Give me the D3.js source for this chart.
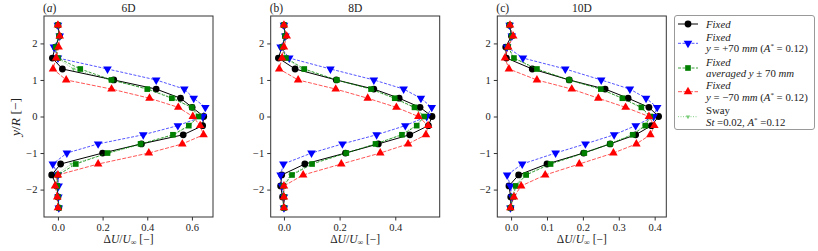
<!DOCTYPE html>
<html>
<head>
<meta charset="utf-8">
<script src="https://cdn.jsdelivr.net/npm/d3@7"></script>
<style>
body { margin: 0; background: #fff; }
text { font-family: "Liberation Serif", "DejaVu Serif", serif; fill: #222; }
</style>
</head>
<body>
<svg width="818" height="251"></svg>
<script>
// radial positions of the measurement points
var yPos = [2.5, 2.2, 1.9, 1.6, 1.3, 1.0, 0.75, 0.5, 0.25, 0, -0.25, -0.5, -0.75, -1.0, -1.3, -1.6, -1.9, -2.2, -2.5];
var titles = ["6D", "8D", "10D"];
var tags = ["(a)", "(b)", "(c)"];
var xTicks = [[0, 0.2, 0.4, 0.6], [0, 0.2, 0.4], [0, 0.1, 0.2, 0.3, 0.4]];
var yTicks = [-2, -1, 0, 1, 2];

// 6D
var fixed6 = [0.0, 0.007, -0.012, -0.025, 0.02, 0.25, 0.44, 0.549, 0.601, 0.653, 0.648, 0.561, 0.374, 0.2, 0.012, -0.028, -0.005, 0.0, 0.004];
var plus6  = [0.0, 0.008, -0.018, 0.0, 0.222, 0.44, 0.566, 0.608, 0.66, 0.648, 0.537, 0.382, 0.18, 0.04, -0.023, 0.0, 0.003, 0.002, 0.004];
var avg6   = [0.0, 0.005, -0.01, 0.0, 0.1, 0.24, 0.40, 0.51, 0.6, 0.63, 0.586, 0.515, 0.37, 0.222, 0.08, 0.0, -0.003, 0.0, 0.004];
var minus6 = [0.0, 0.008, 0.003, -0.008, -0.022, 0.037, 0.24, 0.41, 0.539, 0.604, 0.637, 0.652, 0.557, 0.407, 0.18, 0.0, -0.013, -0.003, 0.0];
var sway6  = [0.0, 0.005, -0.008, -0.004, 0.07, 0.23, 0.41, 0.52, 0.595, 0.625, 0.59, 0.52, 0.38, 0.23, 0.06, -0.01, -0.003, 0.0, 0.003];

// 8D
var fixed8 = [0.0, 0.005, -0.007, -0.02, 0.04, 0.188, 0.323, 0.414, 0.489, 0.532, 0.519, 0.452, 0.339, 0.221, 0.075, -0.008, -0.012, -0.005, 0.0];
var plus8  = [0.0, 0.005, -0.012, 0.019, 0.167, 0.323, 0.43, 0.492, 0.531, 0.513, 0.436, 0.333, 0.21, 0.099, -0.002, -0.012, -0.007, 0.0, 0.0];
var avg8   = [0.0, 0.004, -0.005, 0.007, 0.073, 0.19, 0.313, 0.398, 0.469, 0.504, 0.477, 0.424, 0.329, 0.224, 0.101, 0.029, -0.002, 0.0, 0.0];
var minus8 = [0.0, 0.01, 0.0, -0.007, -0.017, 0.051, 0.186, 0.301, 0.404, 0.483, 0.518, 0.51, 0.446, 0.346, 0.206, 0.069, 0.0, 0.0, 0.0];
var sway8  = [0.0, 0.004, -0.004, 0.004, 0.065, 0.185, 0.31, 0.395, 0.465, 0.5, 0.475, 0.42, 0.33, 0.225, 0.095, 0.022, -0.002, 0.0, 0.0];

// 10D
var fixed10 = [-0.004, 0.001, -0.015, -0.013, 0.059, 0.162, 0.262, 0.326, 0.384, 0.411, 0.391, 0.347, 0.276, 0.202, 0.1, 0.021, -0.006, -0.001, -0.001];
var plus10  = [-0.004, 0.002, -0.011, 0.033, 0.151, 0.251, 0.331, 0.376, 0.407, 0.397, 0.347, 0.287, 0.207, 0.124, 0.031, -0.011, -0.002, 0.003, -0.002];
var avg10   = [-0.004, 0.002, -0.008, 0.008, 0.072, 0.162, 0.25, 0.31, 0.363, 0.388, 0.374, 0.339, 0.276, 0.204, 0.11, 0.042, 0.013, 0.006, -0.002];
var minus10 = [-0.003, 0.006, -0.008, -0.017, -0.006, 0.072, 0.169, 0.243, 0.319, 0.384, 0.399, 0.388, 0.349, 0.285, 0.19, 0.095, 0.028, 0.008, -0.002];
var sway10  = [-0.004, 0.002, -0.007, 0.006, 0.068, 0.16, 0.248, 0.308, 0.36, 0.385, 0.37, 0.335, 0.272, 0.2, 0.105, 0.035, 0.01, 0.005, -0.002];

var panels = [
    [fixed6, plus6, avg6, minus6, sway6],
    [fixed8, plus8, avg8, minus8, sway8],
    [fixed10, plus10, avg10, minus10, sway10]
];

var styles = [
    {color: "#000", dash: null, sym: d3.symbolCircle, size: 36, rot: 0, op: 1},
    {color: "#0000ff", dash: "3,1.5", sym: d3.symbolTriangle, size: 32, rot: 180, op: 0.75},
    {color: "#008000", dash: "3,1.5", sym: d3.symbolSquare, size: 32, rot: 0, op: 0.85},
    {color: "#ff0000", dash: "4,1.5", sym: d3.symbolTriangle, size: 32, rot: 0, op: 0.75},
    {color: "#77cc77", dash: "1,1.5", sym: d3.symbolTriangle, size: 8, rot: 180, op: 1}
];
// sway goes underneath the fixed profiles
var drawOrder = [4, 0, 1, 2, 3];

var svg = d3.select("svg");
var lefts = [44, 270.7, 497.3];
var W = 169, plotTop = 16, H = 201;

var y = d3.scaleLinear().domain([-2.75, 2.75]).range([plotTop + H, plotTop]);
var fmtY = d => d3.format("d")(d).replace("-", "\u2212");

panels.forEach(function (series, i) {
    var all = d3.merge(series);
    var ext = d3.extent(all);
    var pad = (ext[1] - ext[0]) * 0.05;
    var x = d3.scaleLinear().domain([ext[0] - pad, ext[1] + pad]).range([0, W]);

    var g = svg.append("g").attr("transform", "translate(" + lefts[i] + ",0)");

    var line = d3.line().x(d => x(d[0])).y(d => y(d[1]));
    drawOrder.forEach(function (k) {
        var st = styles[k];
        var pts = series[k].map((v, j) => [v, yPos[j]]);
        g.append("path")
            .attr("d", line(pts))
            .attr("fill", "none")
            .attr("stroke", st.color)
            .attr("stroke-width", k == 0 ? 1 : 0.9)
            .attr("stroke-opacity", st.op)
            .attr("stroke-dasharray", st.dash);
        g.selectAll(null).data(pts).enter().append("path")
            .attr("d", d3.symbol(st.sym, st.size))
            .attr("transform", d => "translate(" + x(d[0]) + "," + y(d[1]) + ") rotate(" + st.rot + ")")
            .attr("fill", st.color);
    });

    // frame
    g.append("rect").attr("x", 0).attr("y", plotTop).attr("width", W).attr("height", H)
        .attr("fill", "none").attr("stroke", "#333").attr("stroke-width", 1);

    var xa = g.append("g").attr("transform", "translate(0," + (plotTop + H) + ")")
        .call(d3.axisBottom(x).tickValues(xTicks[i]).tickSize(3.5).tickPadding(3).tickFormat(d3.format(".1f")));
    var ya = g.append("g")
        .call(d3.axisLeft(y).tickValues(yTicks).tickSize(3.5).tickPadding(3).tickFormat(fmtY));
    [xa, ya].forEach(function (a) {
        a.attr("font-family", null);
        a.select(".domain").remove();
        a.selectAll("line").attr("stroke", "#333");
        a.selectAll("text").attr("font-size", 10.5).attr("fill", "#222");
    });

    g.append("text").attr("x", W / 2).attr("y", 12).attr("text-anchor", "middle")
        .attr("font-size", 11.5).text(titles[i]);
    var tg = g.append("text").attr("x", -1).attr("y", 12).attr("font-size", 11.5);
    tg.append("tspan").text("(");
    tg.append("tspan").attr("font-style", i == 0 ? "italic" : "normal").text(tags[i].slice(1, 2));
    tg.append("tspan").text(")");

    var xl = g.append("text").attr("x", W / 2).attr("y", 243).attr("text-anchor", "middle").attr("font-size", 11.5);
    xl.append("tspan").text("\u0394");
    xl.append("tspan").attr("font-style", "italic").text("U");
    xl.append("tspan").text("/");
    xl.append("tspan").attr("font-style", "italic").text("U");
    xl.append("tspan").attr("font-size", 8).attr("dy", 2).text("\u221e");
    xl.append("tspan").attr("dy", -2).text(" [\u2212]");
});

// y label
var yl = svg.append("text").attr("transform", "translate(20,117) rotate(-90)")
    .attr("text-anchor", "middle").attr("font-size", 13.5);
yl.append("tspan").attr("font-style", "italic").text("y");
yl.append("tspan").text("/");
yl.append("tspan").attr("font-style", "italic").text("R");
yl.append("tspan").text(" [\u2212]");

// legend
var lg = svg.append("g");
lg.append("rect").attr("x", 674.5).attr("y", 15.5).attr("width", 140).attr("height", 114).attr("rx", 2.5)
    .attr("fill", "#fff").attr("stroke", "#999").attr("stroke-width", 1);
var legRows = [
    {y: 24, lines: [[{t: "Fixed", i: true}]]},
    {y: 43.3, lines: [[{t: "Fixed", i: true}], [{t: "y", i: true}, {t: " = +70 "}, {t: "mm", i: true}, {t: " ("}, {t: "A", i: true}, {t: "*", sup: true}, {t: " = 0.12)"}]]},
    {y: 68, lines: [[{t: "Fixed", i: true}], [{t: "averaged y", i: true}, {t: " \u00b1 70 "}, {t: "mm", i: true}]]},
    {y: 91.7, lines: [[{t: "Fixed", i: true}], [{t: "y", i: true}, {t: " = \u221270 "}, {t: "mm", i: true}, {t: " ("}, {t: "A", i: true}, {t: "*", sup: true}, {t: " = 0.12)"}]]},
    {y: 116.7, lines: [[{t: "Sway"}], [{t: "St", i: true}, {t: " =0.02, "}, {t: "A", i: true}, {t: "*", sup: true}, {t: " =0.12"}]]}
];
legRows.forEach(function (row, k) {
    var st = styles[k];
    lg.append("line").attr("x1", 678).attr("x2", 698).attr("y1", row.y).attr("y2", row.y)
        .attr("stroke", st.color).attr("stroke-width", k == 0 ? 1 : 0.9)
        .attr("stroke-opacity", st.op).attr("stroke-dasharray", st.dash);
    lg.append("path").attr("d", d3.symbol(st.sym, st.size))
        .attr("transform", "translate(688," + row.y + ") rotate(" + st.rot + ")").attr("fill", st.color);
    var y0 = row.lines.length == 1 ? row.y + 3.5 : row.y - 2.3;
    row.lines.forEach(function (parts, li) {
        var t = lg.append("text").attr("x", 706).attr("y", y0 + li * 11.3).attr("font-size", 10.8);
        parts.forEach(function (p, pi) {
            var s = t.append("tspan").text(p.t).attr("font-style", p.i ? "italic" : "normal");
            if (p.sup) s.attr("font-size", 7).attr("dy", -4);
            else if (pi > 0 && parts[pi - 1].sup) s.attr("dy", 4);
        });
    });
});
</script>
</body>
</html>
